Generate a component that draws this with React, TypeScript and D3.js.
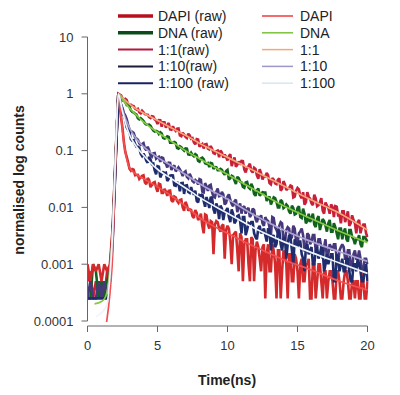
import React from 'react';
import * as d3 from 'd3';

// channel times (ns): coarse before the pulse, 0.1 ns through the decay
const timeNs = [
  0, 0.2, 0.4, 0.6, 0.8, 1, 1.2, 1.4, 1.6, 1.8, 2, 2.2,
  2.4, 2.5, 2.6, 2.7, 2.8, 2.9,
  3, 3.1, 3.2, 3.3, 3.4, 3.5, 3.6, 3.7, 3.8, 3.9,
  4, 4.1, 4.2, 4.3, 4.4, 4.5, 4.6, 4.7, 4.8, 4.9,
  5, 5.1, 5.2, 5.3, 5.4, 5.5, 5.6, 5.7, 5.8, 5.9,
  6, 6.1, 6.2, 6.3, 6.4, 6.5, 6.6, 6.7, 6.8, 6.9,
  7, 7.1, 7.2, 7.3, 7.4, 7.5, 7.6, 7.7, 7.8, 7.9,
  8, 8.1, 8.2, 8.3, 8.4, 8.5, 8.6, 8.7, 8.8, 8.9,
  9, 9.1, 9.2, 9.3, 9.4, 9.5, 9.6, 9.7, 9.8, 9.9,
  10, 10.1, 10.2, 10.3, 10.4, 10.5, 10.6, 10.7, 10.8, 10.9,
  11, 11.1, 11.2, 11.3, 11.4, 11.5, 11.6, 11.7, 11.8, 11.9,
  12, 12.1, 12.2, 12.3, 12.4, 12.5, 12.6, 12.7, 12.8, 12.9,
  13, 13.1, 13.2, 13.3, 13.4, 13.5, 13.6, 13.7, 13.8, 13.9,
  14, 14.1, 14.2, 14.3, 14.4, 14.5, 14.6, 14.7, 14.8, 14.9,
  15, 15.1, 15.2, 15.3, 15.4, 15.5, 15.6, 15.7, 15.8, 15.9,
  16, 16.1, 16.2, 16.3, 16.4, 16.5, 16.6, 16.7, 16.8, 16.9,
  17, 17.1, 17.2, 17.3, 17.4, 17.5, 17.6, 17.7, 17.8, 17.9,
  18, 18.1, 18.2, 18.3, 18.4, 18.5, 18.6, 18.7, 18.8, 18.9,
  19, 19.1, 19.2, 19.3, 19.4, 19.5, 19.6, 19.7, 19.8, 19.9,
  20,
];

// raw photon counts per channel
const countsDAPI = [
  4, 2, 4, 3, 4, 2, 4, 3, 4, 18, 300, 4000,
  1497, 995, 565, 380, 311, 248,
  192, 177, 189, 184, 147, 149, 150, 127, 135, 144,
  147, 110, 102, 132, 121, 91, 99, 109, 112, 89,
  75, 105, 102, 72, 72, 85, 76, 64, 78, 79,
  53, 50, 62, 60, 52, 48, 54, 55, 40, 35,
  50, 44, 35, 37, 36, 28, 26, 36, 32, 24,
  26, 31, 19, 14, 30, 29, 20, 17, 23, 22,
  6, 20, 23, 22, 17, 15, 19, 20, 5, 16,
  19, 17, 10, 4, 13, 14, 15, 7, 3, 14,
  12, 2, 9, 11, 11, 4, 2, 12, 11, 2,
  7, 10, 8, 5, 3, 8, 9, 1, 6, 9,
  3, 3, 9, 7, 4, 1, 7, 7, 1, 3,
  7, 6, 4, 1, 6, 6, 2, 2, 6, 5,
  3, 1, 4, 5, 2, 2, 4, 4, 5, 1,
  1, 4, 4, 1, 2, 4, 4, 2, 1, 3,
  3, 1, 2, 3, 3, 2, 1, 1, 3, 3,
  2, 1, 1, 2, 3, 3, 2, 1, 1, 2,
  2, 1, 2, 2, 1, 1, 3, 2, 1, 1,
  2,
];
const countsDNA = [
  1, 1, 4, 3, 1, 2, 1, 2, 3, 16, 280, 4000,
  3471, 3064, 3054, 2857, 2536, 2561,
  2358, 2047, 1912, 1873, 1782, 1718, 1490, 1418, 1485, 1421,
  1326, 1210, 1150, 1144, 1146, 1091, 983, 902, 869, 891,
  866, 787, 841, 802, 669, 653, 670, 716, 697, 550,
  550, 557, 569, 549, 445, 435, 474, 457, 425, 400,
  438, 433, 343, 337, 369, 337, 318, 346, 331, 263,
  255, 291, 301, 282, 240, 235, 242, 206, 243, 238,
  190, 205, 204, 180, 180, 190, 183, 163, 150, 174,
  182, 124, 131, 144, 139, 119, 103, 138, 131, 114,
  110, 92, 89, 110, 112, 90, 85, 104, 92, 69,
  64, 80, 86, 64, 69, 74, 73, 73, 52, 57,
  62, 45, 52, 60, 58, 50, 40, 40, 54, 51,
  39, 41, 45, 42, 34, 31, 43, 39, 30, 31,
  39, 42, 27, 26, 38, 31, 21, 23, 31, 22,
  26, 31, 20, 18, 25, 28, 16, 20, 25, 23,
  19, 15, 21, 24, 15, 15, 21, 18, 14, 11,
  17, 17, 11, 15, 17, 11, 10, 16, 16, 12,
  11, 9, 11, 11, 13, 9, 8, 12, 12, 11,
  10,
];
const counts1to1 = [
  2, 3, 1, 2, 1, 2, 1, 3, 3, 14, 250, 4000,
  3740, 3295, 3150, 3252, 3104, 2605,
  2492, 2570, 2464, 2433, 2193, 2115, 2182, 1902, 1814, 2009,
  1881, 1763, 1732, 1717, 1552, 1498, 1616, 1589, 1420, 1359,
  1172, 1375, 1373, 1054, 1256, 1255, 1013, 1116, 1227, 943,
  930, 1077, 946, 890, 971, 982, 739, 717, 827, 768,
  700, 667, 792, 737, 645, 663, 559, 515, 636, 625,
  467, 500, 524, 436, 517, 523, 434, 421, 480, 430,
  362, 352, 388, 399, 307, 403, 371, 300, 340, 307,
  268, 321, 345, 214, 258, 304, 208, 225, 258, 239,
  264, 262, 185, 166, 203, 211, 235, 177, 164, 199,
  190, 146, 128, 188, 159, 124, 141, 140, 161, 147,
  107, 102, 132, 123, 106, 103, 123, 129, 79, 85,
  116, 102, 81, 86, 88, 97, 94, 60, 62, 79,
  88, 83, 64, 58, 74, 45, 49, 74, 61, 57,
  47, 44, 67, 58, 42, 44, 49, 58, 35, 31,
  49, 43, 39, 31, 45, 41, 27, 42, 41, 29,
  29, 21, 34, 34, 22, 27, 34, 19, 21, 29,
  24, 21, 14, 22, 24, 14, 18, 20, 20, 14,
  12,
];
const counts1to10 = [
  1, 2, 1, 1, 2, 1, 2, 1, 2, 12, 230, 4000,
  2497, 2260, 1826, 1657, 1426, 1140,
  941, 854, 856, 814, 684, 651, 621, 540, 505, 520,
  541, 437, 404, 468, 406, 332, 312, 356, 361, 288,
  303, 311, 253, 302, 296, 244, 235, 202, 244, 242,
  182, 207, 221, 173, 184, 202, 187, 166, 143, 165,
  173, 138, 130, 156, 137, 117, 111, 121, 115, 101,
  126, 122, 76, 74, 107, 94, 78, 97, 100, 74,
  62, 60, 76, 86, 63, 64, 75, 68, 45, 48,
  62, 68, 54, 46, 42, 51, 55, 33, 41, 47,
  31, 40, 42, 31, 37, 39, 27, 30, 38, 36,
  25, 22, 27, 26, 29, 21, 19, 27, 24, 23,
  18, 13, 27, 26, 18, 16, 14, 19, 22, 21,
  10, 10, 16, 18, 17, 11, 12, 19, 17, 10,
  9, 14, 15, 17, 13, 7, 7, 14, 13, 9,
  10, 13, 13, 7, 8, 11, 11, 8, 5, 8,
  11, 5, 6, 9, 8, 7, 9, 9, 5, 4,
  7, 8, 9, 8, 5, 5, 7, 7, 4, 3,
  6, 7, 5, 5, 7, 5, 3, 3, 5, 5,
  4,
];
const counts1to100 = [
  1, 1, 1, 1, 1, 1, 1, 1, 2, 11, 220, 4000,
  2570, 1717, 1640, 1390, 1024, 925,
  838, 637, 597, 610, 518, 467, 465, 447, 351, 321,
  353, 315, 267, 244, 312, 280, 231, 236, 179, 153,
  213, 209, 135, 153, 166, 160, 163, 117, 127, 145,
  147, 146, 98, 96, 112, 103, 77, 107, 108, 69,
  97, 98, 75, 72, 91, 75, 67, 79, 52, 49,
  66, 64, 69, 52, 41, 61, 50, 39, 61, 58,
  37, 31, 47, 40, 25, 43, 38, 24, 33, 35,
  39, 27, 22, 37, 31, 21, 23, 28, 29, 23,
  14, 27, 27, 13, 16, 21, 20, 22, 22, 14,
  12, 11, 17, 19, 14, 15, 17, 13, 10, 17,
  16, 7, 12, 13, 8, 9, 15, 16, 9, 7,
  11, 12, 5, 9, 13, 12, 7, 4, 11, 9,
  8, 10, 10, 6, 5, 3, 8, 9, 6, 7,
  8, 4, 4, 7, 8, 5, 6, 8, 7, 3,
  4, 6, 4, 5, 6, 6, 2, 2, 6, 5,
  3, 4, 5, 3, 3, 5, 5, 3, 2, 2,
  4, 4, 3, 5, 4, 3, 2, 2, 3, 4,
  2,
];

// fitted decays (time, normalised value)
const fitDAPIT = [1.35, 1.6, 1.8, 2.0, 2.2, 2.4, 2.6, 2.8, 3, 3.5, 4, 5, 6, 7, 8, 10, 12, 14, 16, 18, 20];
const fitDAPIV = [0.00009, 0.0003, 0.0015, 0.05, 1, 0.4, 0.14, 0.071, 0.05, 0.038, 0.032, 0.023, 0.016, 0.0105, 0.0066, 0.0035, 0.002, 0.0012, 0.00079, 0.0005, 0.00035];
const fitDNAT = [0.5, 1.0, 1.3, 1.6, 1.8, 2.0, 2.2, 2.5, 3, 3.5, 4, 5, 6, 7, 8, 10, 12, 14, 16, 18, 20];
const fitDNAV = [0.0002, 0.00022, 0.00027, 0.0007, 0.004, 0.08, 1, 0.79, 0.56, 0.42, 0.32, 0.21, 0.145, 0.1, 0.072, 0.038, 0.02, 0.0107, 0.0063, 0.0038, 0.0024];
const fit1to1T = [1.4, 1.6, 1.8, 2.0, 2.2, 2.5, 3, 3.5, 4, 5, 6, 7, 8, 10, 12, 14, 16, 18, 20];
const fit1to1V = [0.0003, 0.0008, 0.004, 0.07, 1, 0.85, 0.66, 0.54, 0.46, 0.34, 0.25, 0.186, 0.135, 0.076, 0.043, 0.024, 0.0135, 0.0079, 0.004];
const fit1to10T = [1.4, 1.6, 1.8, 2.0, 2.2, 2.5, 3, 3.5, 4, 5, 6, 7, 8, 10, 12, 14, 16, 18, 20];
const fit1to10V = [0.0003, 0.0006, 0.004, 0.08, 1, 0.52, 0.25, 0.16, 0.117, 0.076, 0.054, 0.038, 0.026, 0.014, 0.0071, 0.004, 0.0025, 0.00166, 0.00112];
const fit1to100T = [0.6, 1.0, 1.4, 1.6, 1.8, 2.0, 2.2, 2.5, 3, 3.5, 4, 5, 6, 7, 8, 10, 12, 14, 16, 18, 20];
const fit1to100V = [0.00012, 0.00014, 0.0002, 0.0006, 0.004, 0.08, 1, 0.48, 0.19, 0.117, 0.083, 0.047, 0.032, 0.022, 0.015, 0.0079, 0.0042, 0.0025, 0.0016, 0.00105, 0.00069];

const yTicks = [10, 1, 0.1, 0.01, 0.001, 0.0001];
const yTickLabels = ['10', '1', '0.1', '0.01', '0.001', '0.0001'];
const xTicks = [0, 5, 10, 15, 20];

// drawing order: raw first, fits on top
const rawSeries = [
  { label: '1:1(raw)', counts: counts1to1, color: '#c8203a' },
  { label: 'DNA (raw)', counts: countsDNA, color: '#11621f' },
  { label: 'DAPI (raw)', counts: countsDAPI, color: '#d42a2c' },
  { label: '1:10(raw)', counts: counts1to10, color: '#47387c' },
  { label: '1:100 (raw)', counts: counts1to100, color: '#1f2d6e' },
];
const fitSeries = [
  { label: '1:1', t: fit1to1T, v: fit1to1V, color: '#f6a676' },
  { label: 'DNA', t: fitDNAT, v: fitDNAV, color: '#86c940' },
  { label: 'DAPI', t: fitDAPIT, v: fitDAPIV, color: '#f25050' },
  { label: '1:10', t: fit1to10T, v: fit1to10V, color: '#aaa4d2' },
  { label: '1:100', t: fit1to100T, v: fit1to100V, color: '#eef4fa' },
];

const legendLeft = [
  { label: 'DAPI (raw)', color: '#b80f1c', w: 3.5 },
  { label: 'DNA (raw)', color: '#0b4a1a', w: 3.5 },
  { label: '1:1(raw)', color: '#b2193a', w: 2 },
  { label: '1:10(raw)', color: '#1b1b3c', w: 2 },
  { label: '1:100 (raw)', color: '#1a2260', w: 2 },
];
const legendRight = [
  { label: 'DAPI', color: '#ec3b3b', w: 1.5 },
  { label: 'DNA', color: '#7cc23c', w: 1.5 },
  { label: '1:1', color: '#f3a878', w: 1.5 },
  { label: '1:10', color: '#9c97c6', w: 1.5 },
  { label: '1:100', color: '#d6e6f2', w: 1.5 },
];

const width = 400;
const height = 395;
const plotLeft = 87.5;
const plotRight = 367.5;
const plotTop = 37;
const plotBottom = 321;
const xAxisY = 326;
const font = '"Liberation Sans", Arial, Helvetica, sans-serif';

export default function App() {
  const x = d3.scaleLinear().domain([0, 20]).range([plotLeft, plotRight]);
  const y = d3.scaleLog().domain([0.0001, 10]).range([plotBottom, plotTop]);

  const rawLine = d3.line<[number, number]>()
    .x(d => x(d[0]))
    .y(d => y(d[1]));

  const fitLine = d3.line<[number, number]>()
    .x(d => x(d[0]))
    .y(d => y(d[1]))
    .curve(d3.curveMonotoneX);

  return (
    <svg width={width} height={height} style={{ position: 'absolute', left: 0, top: 0, background: '#fff' }}
      fontFamily={font}>
      <defs>
        <clipPath id="plotClip">
          <rect x={plotLeft} y={plotTop} width={plotRight - plotLeft + 1} height={plotBottom - plotTop + 1} />
        </clipPath>
      </defs>

      <g clipPath="url(#plotClip)">
        {rawSeries.map(s => {
          const maxC = d3.max(s.counts) as number;
          const n = Math.min(s.counts.length, timeNs.length);
          const pts = s.counts.slice(0, n).map((c, i) => [timeNs[i], c / maxC] as [number, number]);
          return (
            <path key={s.label} d={rawLine(pts) || ''}
              fill="none" stroke={s.color} strokeWidth={2.6} strokeLinejoin="miter" strokeMiterlimit={2} />
          );
        })}
        {fitSeries.map(s => (
          <path key={s.label} d={fitLine(s.t.map((t, i) => [t, s.v[i]] as [number, number])) || ''}
            fill="none" stroke={s.color} strokeWidth={1.7} />
        ))}
      </g>

      {/* y axis */}
      <g stroke="#666" strokeWidth={1} fill="none">
        <line x1={plotLeft} x2={plotLeft} y1={y(10)} y2={y(0.0001)} />
        {yTicks.map(t => (
          <line key={t} x1={plotLeft - 6} x2={plotLeft} y1={y(t)} y2={y(t)} />
        ))}
      </g>
      {yTicks.map((t, i) => (
        <text key={t} x={plotLeft - 14} y={y(t)} dy="0.35em" textAnchor="end" fontSize={13} fill="#333">
          {yTickLabels[i]}
        </text>
      ))}
      <text transform={`translate(24,180) rotate(-90)`} textAnchor="middle" fontSize={14} fontWeight="bold" fill="#222">
        normalised log counts
      </text>

      {/* x axis */}
      <g stroke="#666" strokeWidth={1} fill="none">
        <line x1={x(0)} x2={x(20)} y1={xAxisY} y2={xAxisY} />
        {xTicks.map(t => (
          <line key={t} x1={x(t)} x2={x(t)} y1={xAxisY} y2={xAxisY + 6} />
        ))}
      </g>
      {xTicks.map(t => (
        <text key={t} x={x(t)} y={350} textAnchor="middle" fontSize={13} fill="#333">{t}</text>
      ))}
      <text x={227} y={385} textAnchor="middle" fontSize={14} fontWeight="bold" fill="#222">Time(ns)</text>

      {/* legend */}
      {legendLeft.map((d, i) => (
        <g key={d.label} transform={`translate(0,${16 + i * 16.8})`}>
          <line x1={118} x2={153} y1={0} y2={0} stroke={d.color} strokeWidth={d.w} />
          <text x={158} y={0} dy="0.35em" fontSize={14} fill="#222">{d.label}</text>
        </g>
      ))}
      {legendRight.map((d, i) => (
        <g key={d.label} transform={`translate(0,${16 + i * 16.8})`}>
          <line x1={262} x2={293} y1={0} y2={0} stroke={d.color} strokeWidth={d.w} />
          <text x={300} y={0} dy="0.35em" fontSize={14} fill="#222">{d.label}</text>
        </g>
      ))}
    </svg>
  );
}
